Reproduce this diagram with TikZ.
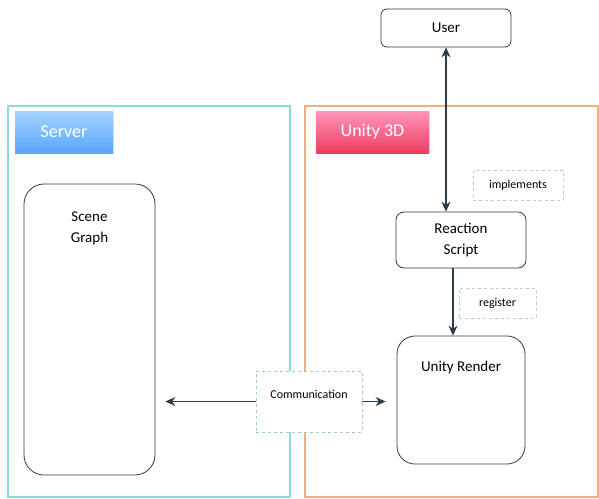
\documentclass[tikz,border=0pt]{standalone}
\usepackage{fontspec}
\setmainfont{Carlito}
\usetikzlibrary{arrows.meta,shadows}
\definecolor{framecyan}{HTML}{86DDD8}
\definecolor{frameorange}{HTML}{EBB27E}
\definecolor{linecol}{HTML}{2F3B48}
\definecolor{dashgreen}{HTML}{B9D3B4}
\definecolor{dashteal}{HTML}{9FCACA}
\definecolor{bluetop}{HTML}{A4D4FF}
\definecolor{bluebot}{HTML}{57A6FF}
\definecolor{pinktop}{HTML}{FF97BA}
\definecolor{pinkbot}{HTML}{EE3C60}
\tikzset{
  frame/.style={draw, line width=2.4pt},
  tag/.style={minimum width=#1, minimum height=42pt, inner sep=0pt, text=white, font=\fontsize{18}{20}\selectfont, drop shadow={opacity=0.25, shadow xshift=0.8pt, shadow yshift=-0.8pt}},
  box/.style={draw=linecol, line width=0.8pt, fill=white, align=center, inner sep=0pt, font=\fontsize{15}{21}\selectfont},
  note/.style={draw=#1, dashed, line width=0.7pt, fill=white, inner sep=0pt, font=\fontsize{12}{14}\selectfont},
  tip/.tip={Stealth[length=10pt,width=9pt]},
  conn/.style={draw=linecol, line width=1.1pt, -tip},
}
\begin{document}
\begin{tikzpicture}[x=1pt,y=-1pt]
\useasboundingbox (0,0) rectangle (599,498);
% frames
\draw[frame, framecyan] (8,106) rectangle (290,497);
\draw[frame, frameorange] (305,106) rectangle (598,497);
% tags
\node[tag=98pt, top color=bluetop, bottom color=bluebot] (server) at (64,132) {Server};
\node[tag=113pt, top color=pinktop, bottom color=pinkbot] (unity) at (372.5,132) {Unity 3D};
% boxes
\node[box, rounded corners=6pt, minimum width=130pt, minimum height=38pt] (user) at (446,28) {User};
\node[box, rounded corners=8pt, minimum width=130pt, minimum height=56pt] (react) at (461,240) {Reaction\\Script};
\node[box, rounded corners=20pt, minimum width=131pt, minimum height=291pt,
  label={[anchor=north, align=center, yshift=-25pt, font=\fontsize{15}{21}\selectfont]north:Scene\\Graph}] (sg) at (89.5,329.5) {};
\node[box, rounded corners=18pt, minimum width=128pt, minimum height=128pt,
  label={[anchor=north, yshift=-22pt, font=\fontsize{15}{21}\selectfont]north:Unity Render}] (render) at (461,400) {};
% notes
\node[note=dashgreen, minimum width=90pt, minimum height=30pt] (impl) at (518,185) {implements};
\node[note=dashgreen, minimum width=77pt, minimum height=30pt] (reg) at (497.5,303) {register};
\node[note=dashteal, minimum width=106pt, minimum height=61pt, text depth=14pt] (comm) at (309,401.5) {Communication};
% connectors
\draw[conn, tip-tip] (user.south) -- (user.south |- react.north);
\draw[conn] ([xshift=-8pt]react.south) -- ([xshift=-8pt]react.south |- render.north);
\draw[conn] (comm.west) -- ([xshift=10pt]sg.east |- comm.west);
\draw[conn] (comm.east) -- ([xshift=-11pt]render.west |- comm.east);
\end{tikzpicture}
\end{document}
